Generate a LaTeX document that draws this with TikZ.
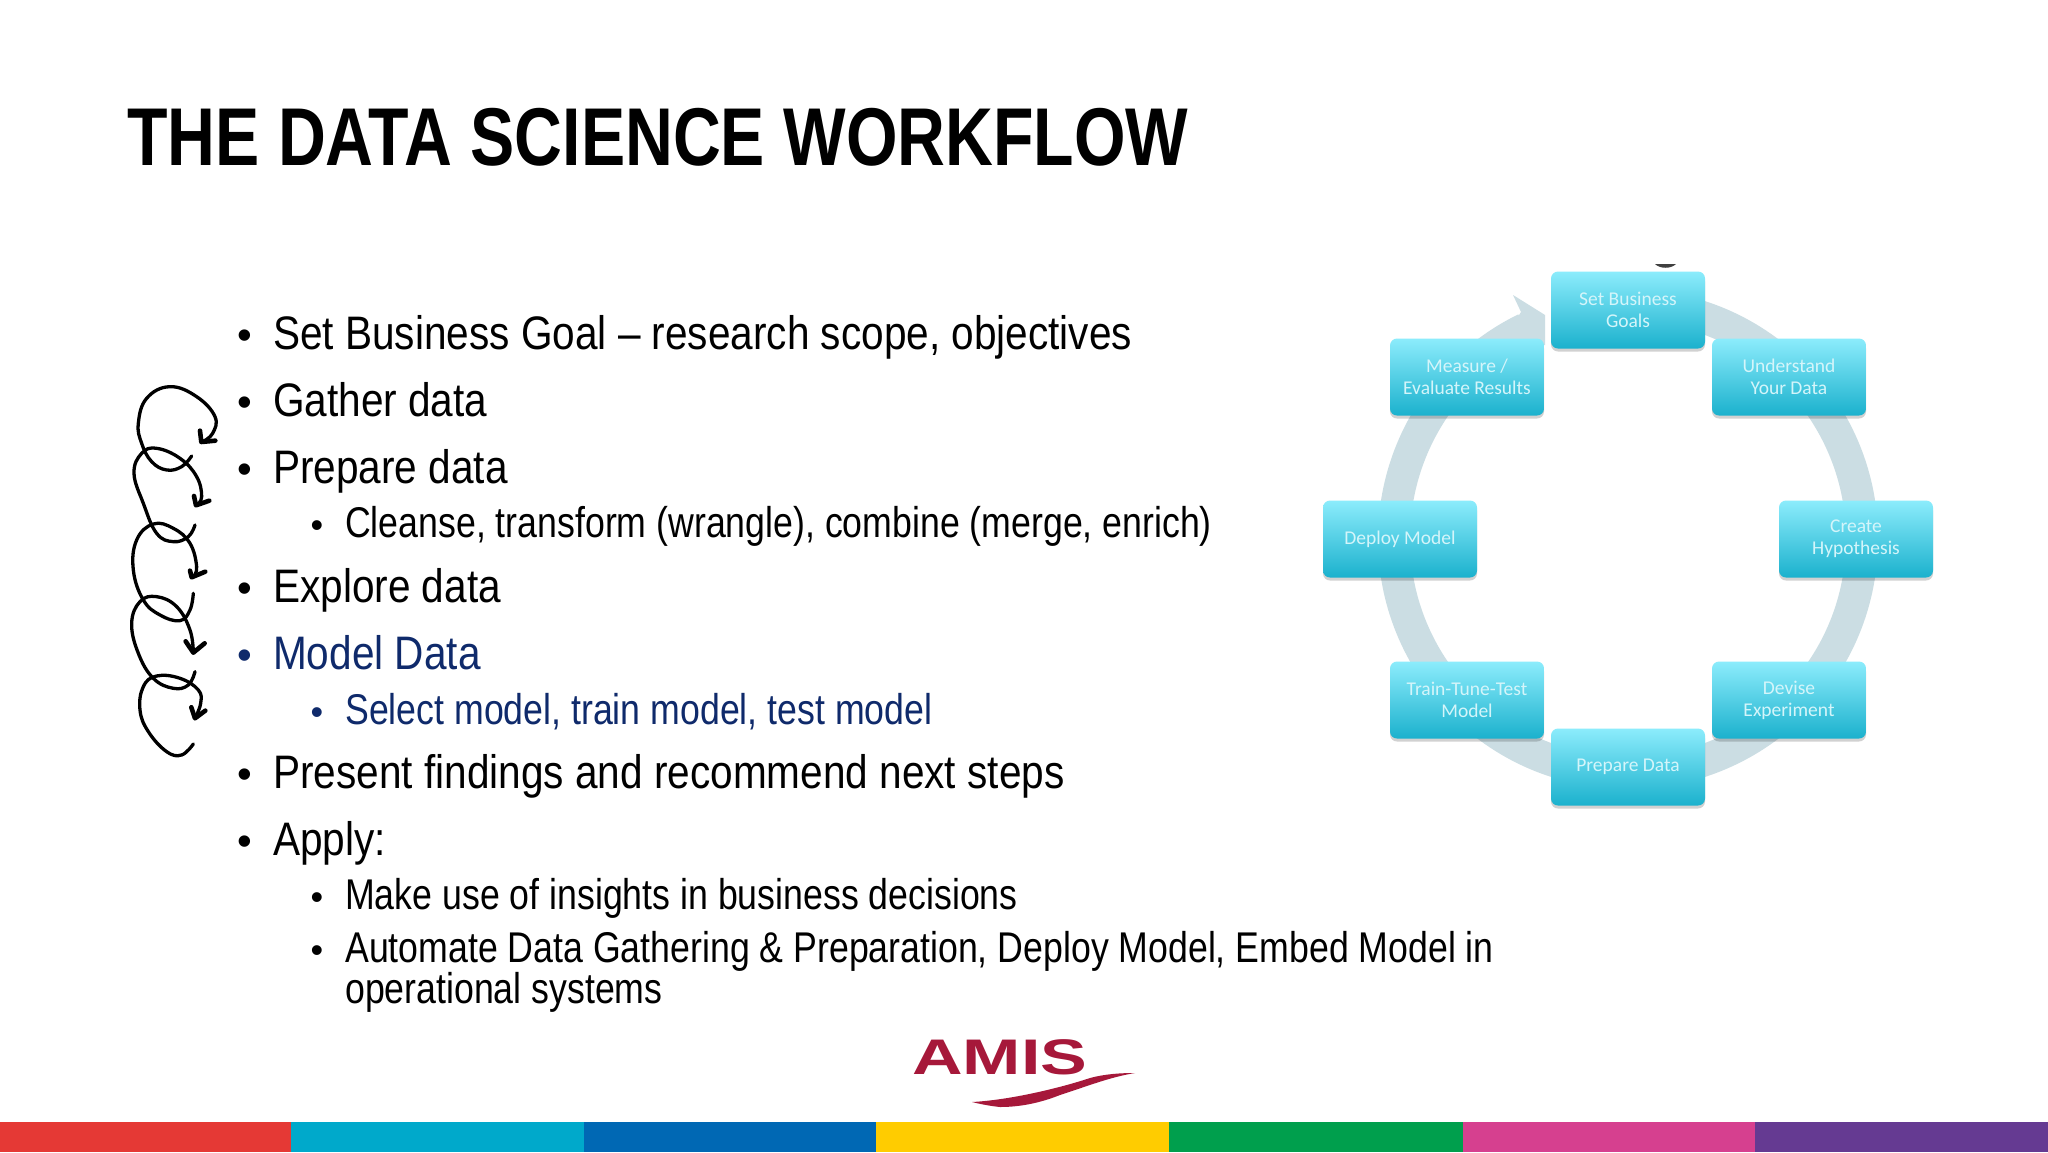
\documentclass[tikz,border=0pt]{standalone}
\usepackage{fontspec}
\usetikzlibrary{shadows}
\setmainfont{Liberation Sans}
\newfontfamily\titlef[FakeStretch=0.808]{Liberation Sans}
\newfontfamily\bodyf[FakeStretch=0.863]{Liberation Sans}
\newfontfamily\subf[FakeStretch=0.83]{Liberation Sans}
\newfontfamily\logof[FakeStretch=1.40]{Liberation Sans}
\newfontfamily\boxf{Carlito}
\definecolor{navy}{HTML}{0F2A6B}
\definecolor{ringc}{HTML}{CBDDE3}
\definecolor{crim}{HTML}{A6183A}
\definecolor{boxtop}{HTML}{8CECFC}
\definecolor{boxbot}{HTML}{1BB1CD}
\definecolor{boxtxt}{HTML}{D4F5FA}
\definecolor{sred}{HTML}{E53935}
\definecolor{steal}{HTML}{00A9CB}
\definecolor{sblue}{HTML}{0068B4}
\definecolor{syellow}{HTML}{FFCC00}
\definecolor{sgreen}{HTML}{009F4D}
\definecolor{spink}{HTML}{D6408F}
\definecolor{spurple}{HTML}{653A92}
\tikzset{
  titletxt/.style={anchor=base west,inner sep=0pt,font=\titlef\bfseries\fontsize{82}{86}\selectfont},
  lone/.style={anchor=base west,inner sep=0pt,font=\bodyf\fontsize{47}{50}\selectfont},
  ltwo/.style={anchor=base west,inner sep=0pt,font=\subf\fontsize{43}{46}\selectfont},
  bullet one/.style={anchor=base,inner sep=0pt,font=\fontsize{42}{44}\selectfont},
  bullet two/.style={anchor=base,inner sep=0pt,font=\fontsize{36}{38}\selectfont},
  stepbox/.style={rectangle,rounded corners=7pt,minimum width=154pt,minimum height=77pt,inner sep=0pt,
    top color=boxtop,bottom color=boxbot,text=boxtxt,align=center,
    font=\boxf\fontsize{19.5}{22}\selectfont,
    general shadow={shadow xshift=0pt,shadow yshift=-3pt,fill=black,opacity=0.18}},
  swirl/.style={line width=3.3pt,line cap=round,line join=round,black},
  swirlhead/.style={line width=4.6pt,line cap=round,line join=round,black},
}
\begin{document}
\begin{tikzpicture}[x=1pt,y=-1pt]
\useasboundingbox (0,0) rectangle (2048,1152);
\fill[white] (0,0) rectangle (2048,1152);
% title
\node[titletxt] (title) at (127,165) {THE DATA SCIENCE WORKFLOW};
% text
\node[bullet one] (b1) at (245,349) {•};
\node[lone] (t1) at (273,349) {Set Business Goal – research scope, objectives};
\node[bullet one] (b2) at (245,416) {•};
\node[lone] (t2) at (273,416) {Gather data};
\node[bullet one] (b3) at (245,483) {•};
\node[lone] (t3) at (273,483) {Prepare data};
\node[bullet two] (b3a) at (317,537) {•};
\node[ltwo] (t3a) at (345,537) {Cleanse, transform (wrangle), combine (merge, enrich)};
\node[bullet one] (b4) at (245,602) {•};
\node[lone] (t4) at (273,602) {Explore data};
\node[bullet one,text=navy] (b5) at (245,669) {•};
\node[lone,text=navy] (t5) at (273,669) {Model Data};
\node[bullet two,text=navy] (b5a) at (317,724) {•};
\node[ltwo,text=navy] (t5a) at (345,724) {Select model, train model, test model};
\node[bullet one] (b6) at (245,788) {•};
\node[lone] (t6) at (273,788) {Present findings and recommend next steps};
\node[bullet one] (b7) at (245,855) {•};
\node[lone] (t7) at (273,855) {Apply:};
\node[bullet two] (b7a) at (317,909) {•};
\node[ltwo] (t7a) at (345,909) {Make use of insights in business decisions};
\node[bullet two] (b7b) at (317,962) {•};
\node[ltwo] (t7b) at (345,962) {Automate Data Gathering \& Preparation, Deploy Model, Embed Model in};
\node[ltwo] (t7c) at (345,1003) {operational systems};
% swirls
\begin{scope}[shift={(110,370)},x=0.3333pt,y=-0.3333pt]
\draw[swirl] plot[smooth,tension=0.7] coordinates {(245,258) (215,290) (170,300) (125,275) (95,220) (85,160) (110,85) (180,50) (260,80) (315,140) (308,190) (278,215)};
\draw[swirlhead] (270,182) -- (274,216) -- (316,212);
\draw[swirl] plot[smooth,tension=0.7] coordinates {(255,465) (235,500) (190,515) (140,490) (100,400) (72,310) (95,250) (140,235) (210,265) (260,320) (275,380) (260,405)};
\draw[swirlhead] (252,378) -- (258,406) -- (298,392);
\draw[swirl] plot[smooth,tension=0.7] coordinates {(250,670) (240,720) (210,752) (150,735) (100,690) (70,600) (80,510) (130,462) (190,475) (240,520) (260,590) (250,620)};
\draw[swirlhead] (240,602) -- (245,622) -- (286,605);
\draw[swirl] plot[smooth,tension=0.7] coordinates {(255,905) (235,945) (190,955) (130,925) (85,850) (65,760) (90,695) (140,680) (200,710) (240,780) (250,848)};
\draw[swirlhead] (227,814) -- (250,848) -- (284,820);
\draw[swirl] plot[smooth,tension=0.7] coordinates {(250,1122) (215,1155) (170,1145) (115,1085) (90,1020) (100,950) (140,918) (210,925) (265,960) (272,1000) (255,1045)};
\draw[swirlhead] (244,1012) -- (255,1045) -- (286,1022);
\end{scope}
% ring with arrowhead
\coordinate (ctr) at (1628,539);
\draw[ringc,line width=32pt] ([shift={(85:234pt)}]ctr) arc[start angle=85,end angle=-244,radius=234pt];
\fill[ringc] (1513,295) -- (1545,315) -- (1545,345) -- (1500,345) -- (1521,312) -- cycle;
\fill[black!75] (1655,264) .. controls (1660,269) and (1671,269) .. (1676,264) -- cycle;
% boxes
\node[stepbox] (goals) at (1628,310) {Set Business\\Goals};
\node[stepbox] (understand) at (1789,377) {Understand\\Your Data};
\node[stepbox] (measure) at (1467,377) {Measure /\\Evaluate Results};
\node[stepbox] (create) at (1856,539) {Create\\Hypothesis};
\node[stepbox] (deploy) at (1400,539) {Deploy Model};
\node[stepbox] (devise) at (1789,700) {Devise\\Experiment};
\node[stepbox] (train) at (1467,700) {Train-Tune-Test\\Model};
\node[stepbox] (prepare) at (1628,767) {Prepare Data};
% logo
\node[anchor=base west,inner sep=0pt,text=crim,font=\logof\bfseries\fontsize{50}{52}\selectfont] (amis) at (912,1074) {AMIS};
\fill[crim] (972,1102) .. controls (1010,1100) and (1060,1088) .. (1090,1078) .. controls (1105,1074) and (1120,1073) .. (1135,1073) .. controls (1110,1077) and (1085,1087) .. (1060,1095) .. controls (1040,1103) and (1020,1107) .. (1000,1107) .. controls (990,1106) and (980,1104) .. (972,1102) -- cycle;
% stripes
\fill[sred] (0,1122) rectangle (291,1152);
\fill[steal] (291,1122) rectangle (584,1152);
\fill[sblue] (584,1122) rectangle (876,1152);
\fill[syellow] (876,1122) rectangle (1169,1152);
\fill[sgreen] (1169,1122) rectangle (1463,1152);
\fill[spink] (1463,1122) rectangle (1755,1152);
\fill[spurple] (1755,1122) rectangle (2048,1152);
\end{tikzpicture}
\end{document}
